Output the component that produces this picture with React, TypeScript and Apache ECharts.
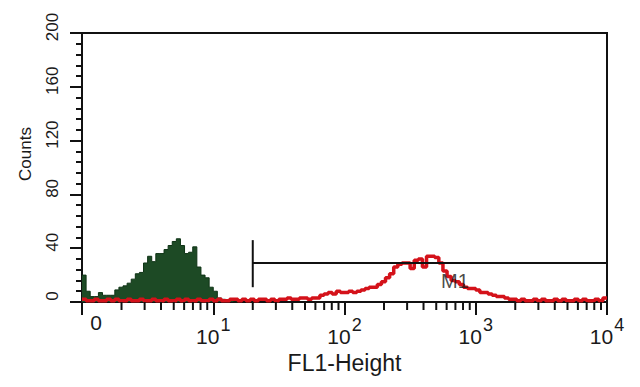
import React, { useEffect, useRef } from "react";
import * as echarts from "echarts";

// Histogram channels: 32 channels per decade over 4 decades (10^0 .. 10^4)
const CHANNELS_PER_DECADE = 32;

// Green (filled) histogram counts, channel 0 upward
const greenCounts = [
  20, 8, 4, 4, 7, 5, 5, 5, 9, 11, 12, 14, 17, 21, 22, 29, 34, 30, 36, 36,
  39, 42, 45, 47, 42, 36, 37, 41, 26, 20, 18, 11, 8, 3, 2, 1, 1, 0,
];

// Red (line) histogram counts, channels 0..127
const redCounts = [
  2, 1, 1, 2, 1, 1, 2, 1, 2, 1, 1, 2, 1, 1, 2, 1, 1, 2, 1, 1,
  2, 1, 1, 2, 1, 2, 1, 1, 2, 1, 1, 2, 1, 2, 1, 1, 2, 2, 1, 2,
  1, 2, 1, 2, 2, 1, 2, 1, 2, 2, 3, 2, 2, 3,
  3, 2, 3, 3, 5, 6, 7, 6, 8, 7, 7, 8, 7, 8, 9, 10, 11, 11, 13, 15,
  18, 21, 26, 28, 29, 29, 25, 31, 32, 26, 34, 34, 33, 29, 23, 19, 16, 15, 13, 11,
  10, 10, 9, 7, 7, 6, 5, 4, 4, 3, 2,
  2, 1, 2, 1, 1, 2, 1, 2, 1, 1, 2, 1, 2, 1, 1, 2, 1, 2, 1, 1, 2, 1, 3,
];

// Marker M1
const m1Range = [20, 10000];
const m1Level = 29;
const m1Bar = [11, 46];
const m1Label = [695, 15.6];

// Axes
const xDecades = [0, 1, 2, 3, 4];
const yMax = 200;
const yStep = 40;
const minorMultipliers = [2, 3, 4, 5, 6, 7, 8, 9];

const channelEdge = (i: number) => Math.pow(10, i / CHANNELS_PER_DECADE);

function toSteps(counts: number[]) {
  const pts: number[][] = counts.map((c, i) => [channelEdge(i), c]);
  pts.push([channelEdge(counts.length), counts[counts.length - 1]]);
  return pts;
}

const FONT = "'Liberation Sans', Arial, Helvetica, sans-serif";
const INK = "#1a1a1a";

export default function App() {
  const ref = useRef<HTMLDivElement>(null);

  useEffect(() => {
    if (!ref.current) return;
    const chart = echarts.init(ref.current, undefined, { renderer: "svg" });

    const minorTicks: number[][] = [];
    for (let d = 0; d < xDecades.length - 1; d++) {
      for (const m of minorMultipliers) {
        minorTicks.push([m * Math.pow(10, xDecades[d]), 0]);
      }
    }

    chart.setOption({
      animation: false,
      backgroundColor: "#ffffff",
      grid: {
        left: 82,
        right: 33,
        top: 33,
        bottom: 85,
        show: true,
        borderColor: "#111",
        borderWidth: 2,
        backgroundColor: "transparent",
      },
      xAxis: {
        type: "log",
        logBase: 10,
        min: 1,
        max: 10000,
        name: "FL1-Height",
        nameLocation: "middle",
        nameGap: 46,
        nameTextStyle: { fontSize: 23, color: INK, fontFamily: FONT },
        axisLine: { show: true, lineStyle: { color: "#111", width: 2 } },
        axisTick: { show: true, length: 13, lineStyle: { color: "#111", width: 2 } },
        minorTick: { show: false },
        splitLine: { show: false },
        axisLabel: {
          margin: 14,
          showMinLabel: true,
          showMaxLabel: true,
          color: INK,
          fontSize: 21,
          fontFamily: FONT,
          formatter: (v: number) => {
            const e = Math.round(Math.log10(v));
            if (e === 0) return "{z|0}";
            return "{b|10}{s|" + e + "}";
          },
          rich: {
            z: {
              fontSize: 21,
              height: 12,
              color: INK,
              fontFamily: FONT,
              padding: [0, 0, 19, 28],
            },
            b: {
              fontSize: 21,
              color: INK,
              fontFamily: FONT,
              padding: [10, 0, 0, 0],
            },
            s: {
              fontSize: 18,
              color: INK,
              fontFamily: FONT,
              padding: [0, 0, 13, 1],
            },
          },
        },
      },
      yAxis: {
        type: "value",
        min: 0,
        max: yMax,
        interval: yStep,
        name: "Counts",
        nameLocation: "middle",
        nameGap: 48,
        nameRotate: 90,
        nameTextStyle: {
          fontSize: 17,
          color: INK,
          fontFamily: FONT,
          padding: [0, 0, 0, 27],
        },
        axisLine: { show: true, lineStyle: { color: "#111", width: 2 } },
        axisTick: { show: true, length: 12, lineStyle: { color: "#111", width: 2 } },
        minorTick: {
          show: true,
          splitNumber: 5,
          length: 6,
          lineStyle: { color: "#111", width: 2 },
        },
        splitLine: { show: false },
        axisLabel: {
          rotate: 90,
          margin: 21,
          fontSize: 17,
          color: INK,
          fontFamily: FONT,
          padding: [0, 0, 0, 12],
        },
      },
      series: [
        {
          type: "line",
          name: "green",
          data: toSteps(greenCounts),
          step: "end",
          symbol: "none",
          lineStyle: { color: "#0e3315", width: 1 },
          areaStyle: { color: "#1d4a25", opacity: 1 },
          z: 2,
        },
        {
          type: "line",
          name: "red",
          data: toSteps(redCounts),
          step: "end",
          symbol: "none",
          lineStyle: { color: "#d4121a", width: 3.5 },
          z: 3,
        },
        {
          type: "line",
          name: "m1",
          data: [
            [m1Range[0], m1Level],
            [m1Range[1], m1Level],
          ],
          symbol: "none",
          lineStyle: { color: "#111", width: 2 },
          z: 4,
        },
        {
          type: "line",
          name: "m1bar",
          data: [
            [m1Range[0], m1Bar[0]],
            [m1Range[0], m1Bar[1]],
          ],
          symbol: "none",
          lineStyle: { color: "#111", width: 2 },
          z: 4,
        },
        {
          type: "scatter",
          name: "m1label",
          data: [m1Label],
          symbolSize: 0,
          label: {
            show: true,
            position: "inside",
            formatter: "M1",
            fontSize: 20,
            color: INK,
            fontFamily: FONT,
          },
          z: 5,
        },
        {
          type: "custom",
          name: "minorTicks",
          data: minorTicks,
          clip: false,
          z: 6,
          renderItem: (_params: any, api: any) => {
            const p = api.coord([api.value(0), 0]);
            return {
              type: "line",
              shape: { x1: p[0], y1: p[1], x2: p[0], y2: p[1] + 8 },
              style: { stroke: "#111", lineWidth: 2 },
            };
          },
        },
      ],
    });

    return () => chart.dispose();
  }, []);

  return (
    <div
      ref={ref}
      style={{ position: "fixed", left: 0, top: 0, width: 640, height: 387, background: "#fff" }}
    />
  );
}
